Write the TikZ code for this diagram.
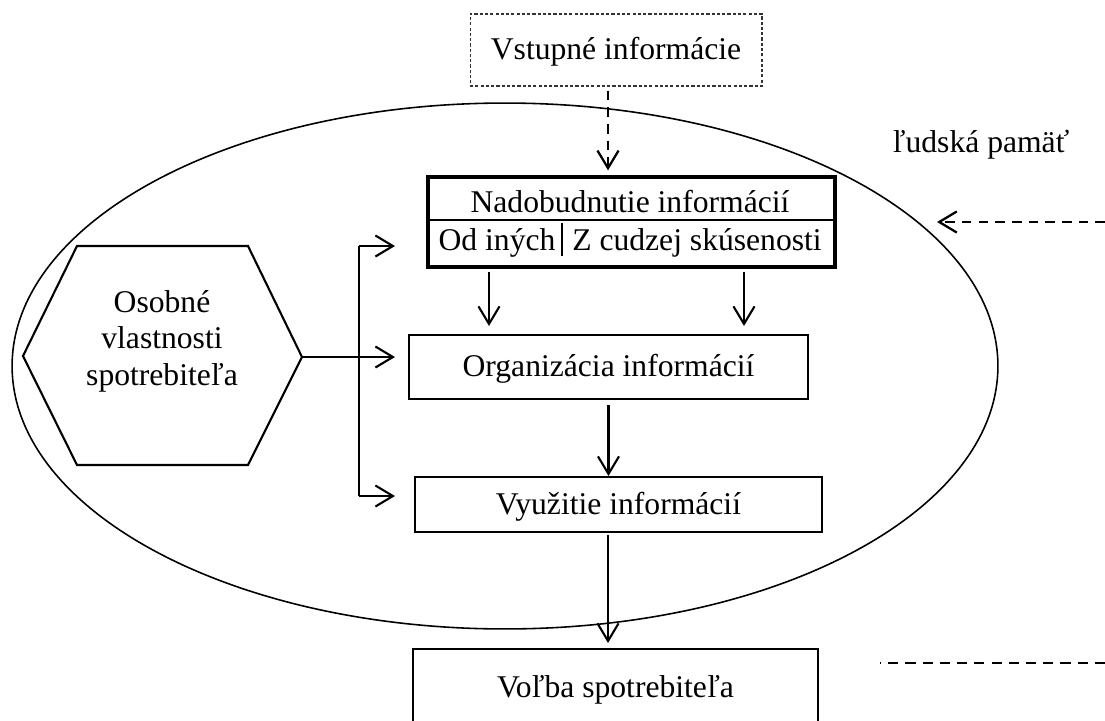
\documentclass[tikz,border=0pt]{standalone}
\usepackage{fontspec}
\setmainfont{Liberation Serif}
\usetikzlibrary{arrows.meta,calc,positioning}

\begin{document}
\begin{tikzpicture}[x=0.02cm,y=-0.02cm,
  font=\fontsize{18}{20.7}\selectfont,
  box/.style={draw,line width=1.2pt,inner sep=0pt,text height=13pt,text depth=2pt},
  arr/.style={-{Straight Barb[length=10pt,width=12pt]},line width=1.2pt},
  dline/.style={line width=1.4pt,dash pattern=on 5.8pt off 4pt},
  darr/.style={arr,line width=1.3pt,dash pattern=on 5.5pt off 4pt}]
  \useasboundingbox (0,0) rectangle (1105,720);
  \draw[line width=0.9pt] (505,366) ellipse [x radius=9.86cm,y radius=5.26cm];
  \node[box,draw=black!80,line width=0.6pt,dash pattern=on 1.8pt off 1.2pt,
        minimum width=5.84cm,minimum height=1.44cm] (vstup) at (616,50) {Vstupné informácie};
  \node[box,line width=1.9pt,minimum width=8.14cm,minimum height=1.8cm] (nadob) at (631.5,222) {};
  \node[anchor=base] (nadobT) at (630,212) {Nadobudnutie informácií};
  \node[anchor=base] (odinych) at (497,250) {Od iných};
  \node[anchor=base] (cudzej) at (697,250) {Z cudzej skúsenosti};
  \draw[line width=1.4pt] (nadob.west |- 0,220) -- (nadob.east |- 0,220);
  \draw[line width=1.1pt] (562,223) -- (562,256);
  \node[box,minimum width=7.98cm,minimum height=1.28cm] (org) at (608.5,367) {Organizácia informácií};
  \node[box,minimum width=8.14cm,minimum height=1.1cm] (vyuz) at (618.5,504.5) {Využitie informácií};
  \node[box,minimum width=8.1cm,minimum height=1.8cm,anchor=north] (volba) at (615.5,648) {};
  \node[anchor=base] (volbaT) at (615.5,697) {Voľba spotrebiteľa};
  \node[anchor=base] (pamat) at (981,152) {ľudská pamäť};
  \node[align=center] (osob) at (162,341) {Osobné\\vlastnosti\\spotrebiteľa};
  \draw[line width=1.2pt] (23,356) -- (77,246) -- (248,246) -- (302,357) -- (248,465) -- (77,465) -- cycle;
  \coordinate (hexE) at (302,357);
  \coordinate (busN) at (359,246);
  \coordinate (busS) at (359,496);
  \coordinate (pamIn) at (1105,222);
  \coordinate (volOut) at (1105,663);
  \draw[line width=1.2pt] (busN) -- (busS);
  \draw[arr] (busN) -- ++(36,0);
  \draw[arr] (hexE) -- ++(93,0);
  \draw[arr] (busS) -- ++(36,0);
  \draw[darr] ($(vstup.south)+(-8,4)$) -- ($(nadob.north)+(-23.5,-5)$);
  \draw[arr] ($(nadob.south)+(-142.5,3)$) -- ($(org.north)+(-119.5,-8)$);
  \draw[arr] ($(nadob.south)+(112.5,3)$) -- ($(org.north)+(135.5,-8)$);
  \draw[arr] ($(org.south)+(0,5)$) -- (org.south |- vyuz.north);
  \draw[arr] ($(vyuz.south)+(-10.5,2)$) -- ($(volba.north)+(-7.5,-5)$);
  \draw[darr] (pamIn) -- ++(-168,0);
  \draw[dline] (volOut) -- ++(-225,0);
\end{tikzpicture}
\end{document}
